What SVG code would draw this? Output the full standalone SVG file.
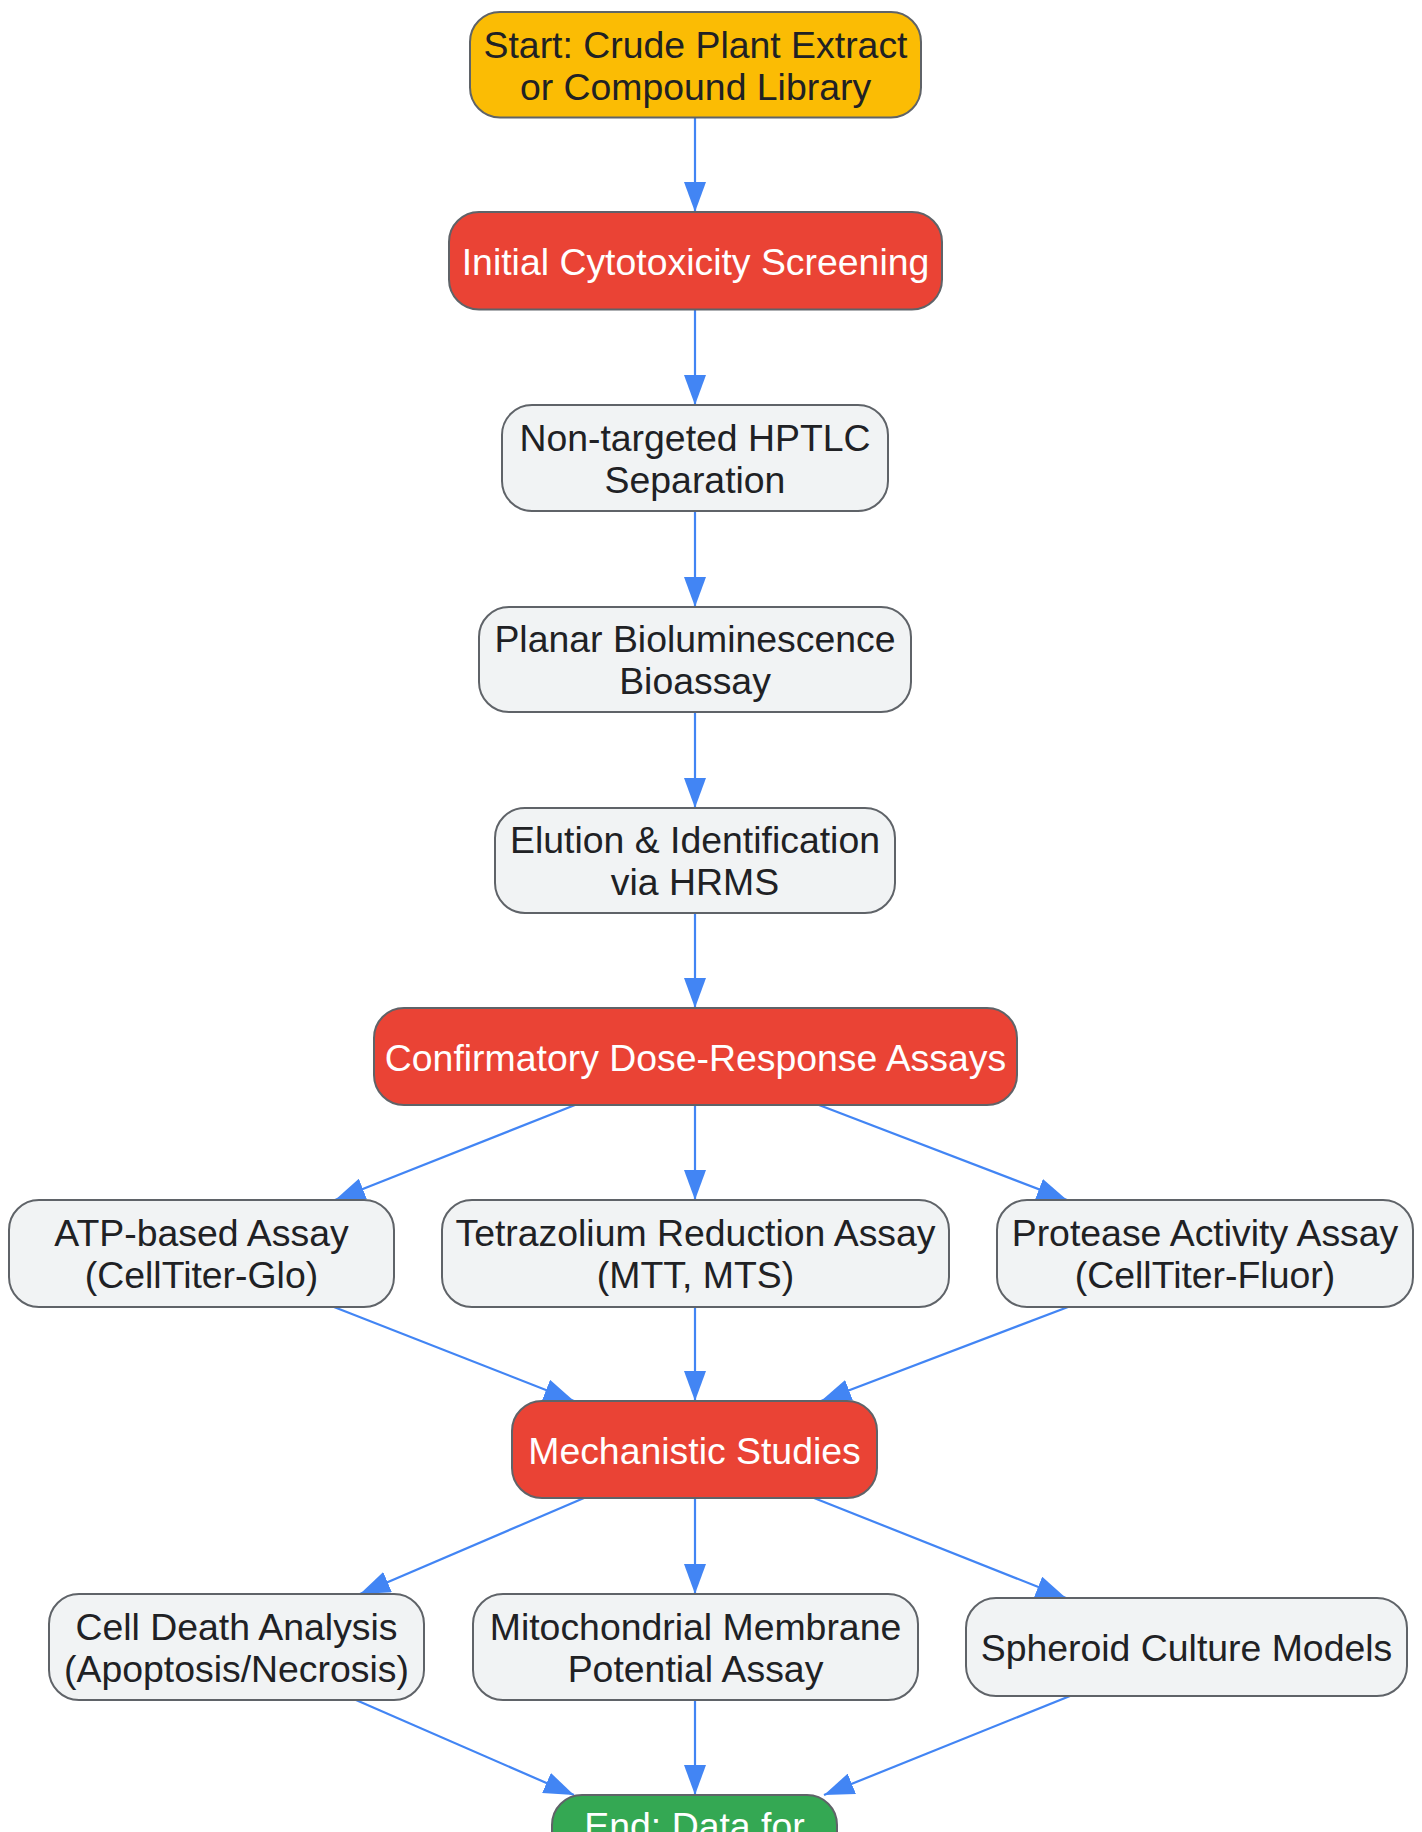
<svg xmlns="http://www.w3.org/2000/svg" width="1422" height="1832" viewBox="0 0 1422 1832">
<style>
.box{stroke:#5f6368;stroke-width:2}
.start{fill:#FBBC04}
.key{fill:#EA4335}
.step{fill:#F1F3F4}
.end{fill:#34A853}
text{font-family:"Liberation Sans",Arial,sans-serif;font-size:37.4px;text-anchor:middle}
.dark{fill:#202124}
.light{fill:#ffffff}
.edge{stroke:#4285F4;stroke-width:2.2;fill:none}
</style>
<defs>
<marker id="arr" viewBox="0 0 30 22" refX="30" refY="11" markerWidth="30" markerHeight="22" markerUnits="userSpaceOnUse" orient="auto">
<path d="M0,0 L30,11 L0,22 Z" fill="#4285F4"/>
</marker>
</defs>
<rect width="1422" height="1832" fill="#ffffff"/>
<g id="connectors">
<path class="edge" marker-end="url(#arr)" d="M695,117.5 L695,212"/>
<path class="edge" marker-end="url(#arr)" d="M695,309.5 L695,405"/>
<path class="edge" marker-end="url(#arr)" d="M695,511 L695,607"/>
<path class="edge" marker-end="url(#arr)" d="M695,712 L695,808"/>
<path class="edge" marker-end="url(#arr)" d="M695,913 L695,1008"/>
<path class="edge" marker-end="url(#arr)" d="M575,1105 L335,1200"/>
<path class="edge" marker-end="url(#arr)" d="M695,1105 L695,1200"/>
<path class="edge" marker-end="url(#arr)" d="M819,1105 L1067,1200"/>
<path class="edge" marker-end="url(#arr)" d="M334,1307 L574,1401"/>
<path class="edge" marker-end="url(#arr)" d="M695,1307 L695,1401"/>
<path class="edge" marker-end="url(#arr)" d="M1068,1307 L821,1401"/>
<path class="edge" marker-end="url(#arr)" d="M584,1498 L360,1594"/>
<path class="edge" marker-end="url(#arr)" d="M695,1498 L695,1594"/>
<path class="edge" marker-end="url(#arr)" d="M814,1498 L1066,1598"/>
<path class="edge" marker-end="url(#arr)" d="M356,1700 L574,1795"/>
<path class="edge" marker-end="url(#arr)" d="M695,1700 L695,1795"/>
<path class="edge" marker-end="url(#arr)" d="M1070,1696 L824,1795"/>
</g>
<g id="start">
<rect class="box start" x="470" y="12" width="451" height="105.5" rx="30"/>
<text class="dark" x="695.5" y="57.5">Start: Crude Plant Extract</text>
<text class="dark" x="695.5" y="99.5">or Compound Library</text>
</g>
<g id="initial">
<rect class="box key" x="449" y="212" width="493" height="97.5" rx="30"/>
<text class="light" x="695.5" y="274.5">Initial Cytotoxicity Screening</text>
</g>
<g id="hptlc">
<rect class="box step" x="502" y="405" width="386" height="106" rx="30"/>
<text class="dark" x="695" y="450.5">Non-targeted HPTLC</text>
<text class="dark" x="695" y="492.5">Separation</text>
</g>
<g id="planar">
<rect class="box step" x="479" y="607" width="432" height="105" rx="30"/>
<text class="dark" x="695" y="651.5">Planar Bioluminescence</text>
<text class="dark" x="695" y="693.5">Bioassay</text>
</g>
<g id="elution">
<rect class="box step" x="495" y="808" width="400" height="105" rx="30"/>
<text class="dark" x="695" y="852.5">Elution &amp; Identification</text>
<text class="dark" x="695" y="894.5">via HRMS</text>
</g>
<g id="confirm">
<rect class="box key" x="374" y="1008" width="643" height="97" rx="30"/>
<text class="light" x="695.5" y="1070.5">Confirmatory Dose-Response Assays</text>
</g>
<g id="atp">
<rect class="box step" x="9" y="1200" width="385" height="107" rx="30"/>
<text class="dark" x="201.5" y="1245.5">ATP-based Assay</text>
<text class="dark" x="201.5" y="1287.5">(CellTiter-Glo)</text>
</g>
<g id="tetrazolium">
<rect class="box step" x="442" y="1200" width="507" height="107" rx="30"/>
<text class="dark" x="695.5" y="1245.5">Tetrazolium Reduction Assay</text>
<text class="dark" x="695.5" y="1287.5">(MTT, MTS)</text>
</g>
<g id="protease">
<rect class="box step" x="997" y="1200" width="416" height="107" rx="30"/>
<text class="dark" x="1205" y="1245.5">Protease Activity Assay</text>
<text class="dark" x="1205" y="1287.5">(CellTiter-Fluor)</text>
</g>
<g id="mechanistic">
<rect class="box key" x="512" y="1401" width="365" height="97" rx="30"/>
<text class="light" x="694.5" y="1463.5">Mechanistic Studies</text>
</g>
<g id="celldeath">
<rect class="box step" x="49" y="1594" width="375" height="106" rx="30"/>
<text class="dark" x="236.5" y="1639.5">Cell Death Analysis</text>
<text class="dark" x="236.5" y="1681.5">(Apoptosis/Necrosis)</text>
</g>
<g id="mito">
<rect class="box step" x="473" y="1594" width="445" height="106" rx="30"/>
<text class="dark" x="695.5" y="1639.5">Mitochondrial Membrane</text>
<text class="dark" x="695.5" y="1681.5">Potential Assay</text>
</g>
<g id="spheroid">
<rect class="box step" x="966" y="1598" width="441" height="98" rx="30"/>
<text class="dark" x="1186.5" y="1660.5">Spheroid Culture Models</text>
</g>
<g id="end">
<rect class="box end" x="552" y="1795" width="285" height="110" rx="30"/>
<text class="light" x="694.5" y="1839">End: Data for</text>
</g>
</svg>
